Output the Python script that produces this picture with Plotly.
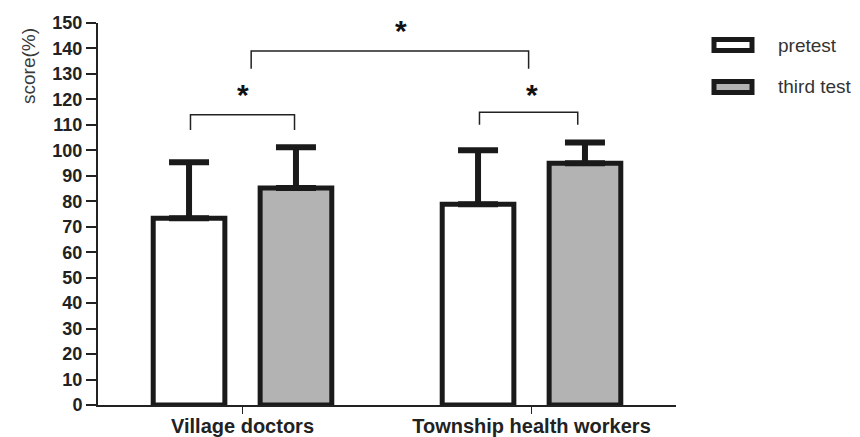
import plotly.graph_objects as go

# ---- data ----
groups = ["Village doctors", "Township health workers"]
group_pos = [0, 1]
series_names = ["pretest", "third test"]
pretest_mean = [73.3, 78.8]
pretest_sd = [22.0, 21.2]
third_mean = [85.2, 94.9]
third_sd = [16.0, 8.2]

# significance brackets: (x start, x end, y bottom, y top) in axis units
bracket_x0 = [-0.18, 0.03, 0.82]
bracket_x1 = [0.18, 0.99, 1.16]
bracket_ylo = [108, 132, 110]
bracket_yhi = [114, 139, 115]
star_x = [0.0, 0.55, 1.0]
star_y = [122, 147, 122]
star_text = ["*", "*", "*"]

yticks = list(range(0, 151, 10))

DARK = "#1a1a1a"
FONT = "Liberation Sans, Arial, sans-serif"
FILLS = ["white", "#b3b3b3"]

# plot-area geometry (pixels)
L, R, T, B = 98, 184, 23, 32
W, H = 860, 437
PW, PH = W - L - R, H - T - B


def px(xp):
    return (xp - L) / PW


def py(yp):
    return (H - B - yp) / PH


fig = go.Figure()
for name, mean, sd, fill in zip(series_names, [pretest_mean, third_mean],
                                [pretest_sd, third_sd], FILLS):
    fig.add_trace(go.Bar(
        x=group_pos, y=mean, name=name, showlegend=False,
        marker=dict(color=fill, line=dict(color=DARK, width=5)),
        error_y=dict(type="data", array=sd, arrayminus=[0] * len(sd), symmetric=False,
                     thickness=6, width=20, color=DARK),
    ))

shapes = []
for x0, x1, ylo, yhi in zip(bracket_x0, bracket_x1, bracket_ylo, bracket_yhi):
    shapes.append(dict(
        type="path", xref="x", yref="y",
        path=f"M {x0},{ylo} L {x0},{yhi} L {x1},{yhi} L {x1},{ylo}",
        line=dict(color="#222", width=1.5),
    ))

annotations = []
for sx, sy, st in zip(star_x, star_y, star_text):
    annotations.append(dict(
        x=sx, y=sy, xref="x", yref="y", text=st, showarrow=False,
        font=dict(family=FONT, size=30, color="#111", weight="bold"),
    ))

# y-axis title placed at top-left like the reference
annotations.append(dict(
    x=px(28), y=py(66), xref="paper", yref="paper", text="score(%)", showarrow=False,
    textangle=-90, xanchor="center", yanchor="middle",
    font=dict(family=FONT, size=19, color="#3a3a3a"),
))

# legend (drawn as key boxes + labels)
legend_rows_y = [45, 87]
for name, fill, ly in zip(series_names, FILLS, legend_rows_y):
    shapes.append(dict(
        type="rect", xref="paper", yref="paper",
        x0=px(714), x1=px(752), y0=py(ly - 5.5), y1=py(ly + 5.5),
        fillcolor=fill, line=dict(color=DARK, width=5),
    ))
    annotations.append(dict(
        x=px(776), y=py(ly), xref="paper", yref="paper", text=name, showarrow=False,
        xanchor="left", yanchor="middle",
        font=dict(family=FONT, size=19, color="#333"),
    ))

fig.update_layout(
    width=W, height=H,
    margin=dict(l=L, r=R, t=T, b=B, autoexpand=False),
    plot_bgcolor="white", paper_bgcolor="white",
    barmode="group", bargap=0.26, bargroupgap=0.33,
    showlegend=False,
    shapes=shapes,
    annotations=annotations,
    xaxis=dict(
        range=[-0.5, 1.5], tickvals=group_pos, ticktext=groups,
        showline=True, linecolor="#222", linewidth=2,
        ticks="outside", ticklen=7, tickwidth=1, tickcolor="#222",
        ticklabelstandoff=-5,
        showgrid=False, zeroline=False,
        tickfont=dict(family=FONT, size=20, color="#222", weight="bold"),
    ),
    yaxis=dict(
        range=[0, 150], tickvals=yticks,
        showline=True, linecolor="#222", linewidth=2,
        ticks="outside", ticklen=10, tickwidth=2, tickcolor="#222",
        showgrid=False, zeroline=False,
        tickfont=dict(family=FONT, size=18, color="#222", weight="bold"),
    ),
)

fig.write_html("out.html", config={"displayModeBar": False},
               post_script="document.body.style.margin='0';document.body.style.overflow='hidden';")
